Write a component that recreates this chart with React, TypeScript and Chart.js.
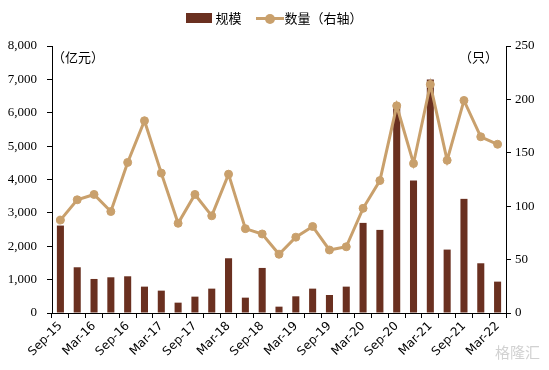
import React, { useEffect, useRef } from "react";
import { Chart, registerables } from "chart.js";

Chart.register(...registerables);

const categories = [
  "Sep-15", "Dec-15", "Mar-16", "Jun-16", "Sep-16", "Dec-16", "Mar-17", "Jun-17",
  "Sep-17", "Dec-17", "Mar-18", "Jun-18", "Sep-18", "Dec-18", "Mar-19", "Jun-19",
  "Sep-19", "Dec-19", "Mar-20", "Jun-20", "Sep-20", "Dec-20", "Mar-21", "Jun-21",
  "Sep-21", "Dec-21", "Mar-22",
];
const scaleValues = [
  2620, 1370, 1020, 1070, 1100, 790, 670, 310, 490, 730, 1640, 460, 1350, 190,
  500, 730, 540, 790, 2700, 2490, 6270, 3970, 7000, 1900, 3420, 1490, 940,
];
const countValues = [
  87, 106, 111, 95, 141, 180, 131, 84, 111, 91, 130, 79, 74, 55, 71, 81, 59, 62,
  98, 124, 194, 140, 214, 143, 199, 165, 158,
];
const leftTicks = { min: 0, max: 8000, step: 1000 };
const rightTicks = { min: 0, max: 250, step: 50 };

const BAR = "#6A3020";
const LINE = "#C9A06C";

export default function App() {
  const ref = useRef<HTMLCanvasElement>(null);
  useEffect(() => {
    document.body.style.margin = "0";
    const unitPlugin = {
      id: "units",
      afterDraw(chart: any) {
        const { ctx, chartArea } = chart;
        ctx.save();
        ctx.fillStyle = "#000";
        ctx.font = '13px "Noto Sans CJK SC"';
        ctx.textBaseline = "middle";
        ctx.textAlign = "left";
        ctx.fillText("（亿元）", chartArea.left, chartArea.top + 11);
        ctx.textAlign = "right";
        ctx.fillText("（只）", chartArea.right - 8, chartArea.top + 11);
        ctx.fillStyle = "rgba(190,190,190,0.7)";
        ctx.font = '15px "Noto Sans CJK SC"';
        ctx.textAlign = "left";
        ctx.fillText("格隆汇", 495, 352);
        ctx.restore();
      },
    };
    const chart = new Chart(ref.current!, {
      type: "bar",
      data: {
        labels: categories,
        datasets: [
          {
            type: "line",
            label: "数量（右轴）",
            data: countValues,
            yAxisID: "y1",
            borderColor: LINE,
            backgroundColor: LINE,
            borderWidth: 3,
            pointRadius: 4,
            pointBackgroundColor: LINE,
            pointBorderColor: LINE,
            pointBorderWidth: 1,
            tension: 0,
            order: 1,
          },
          {
            type: "bar",
            label: "规模",
            data: scaleValues,
            yAxisID: "y",
            backgroundColor: BAR,
            barPercentage: 0.42,
            categoryPercentage: 1,
            order: 2,
          },
        ],
      },
      options: {
        animation: false,
        responsive: false,
        layout: { padding: { top: 46, left: 0, right: 0, bottom: 0 } },
        plugins: { legend: { display: false }, tooltip: { enabled: false } },
        scales: {
          x: {
            offset: true,
            grid: { drawOnChartArea: false, drawTicks: true, tickLength: 5, color: "#000", offset: true },
            border: { display: true, color: "#000", width: 1 },
            ticks: {
              autoSkip: false,
              maxRotation: 45,
              minRotation: 45,
              color: "#000",
              font: { family: '"DejaVu Sans", sans-serif', size: 12 },
              padding: 1,
              callback: (_v: any, i: number) => (i % 2 === 0 ? categories[i] : ""),
            },
            afterFit: (s: any) => { s.height = 57; },
          },
          y: {
            position: "left",
            min: leftTicks.min,
            max: leftTicks.max,
            grid: { drawOnChartArea: false, drawTicks: true, tickLength: 5, color: "#000" },
            border: { display: true, color: "#000", width: 1 },
            ticks: {
              stepSize: leftTicks.step,
              color: "#000",
              padding: 10,
              font: { family: '"Liberation Serif", "DejaVu Serif", serif', size: 13 },
              callback: (v: any) => Number(v).toLocaleString("en-US"),
            },
            afterFit: (s: any) => { s.width = 52; },
          },
          y1: {
            position: "right",
            min: rightTicks.min,
            max: rightTicks.max,
            grid: { drawOnChartArea: false, drawTicks: true, tickLength: 5, color: "#000" },
            border: { display: true, color: "#000", width: 1 },
            ticks: {
              stepSize: rightTicks.step,
              color: "#000",
              padding: 4,
              font: { family: '"Liberation Serif", "DejaVu Serif", serif', size: 13 },
            },
            afterFit: (s: any) => { s.width = 43; },
          },
        },
      },
      plugins: [unitPlugin],
    });
    return () => chart.destroy();
  }, []);

  return (
    <div style={{ position: "relative", width: 549, height: 370, background: "#fff" }}>
      <canvas ref={ref} width={549} height={370} style={{ display: "block", width: 549, height: 370 }} />
      <div
        style={{
          position: "absolute",
          top: 8,
          left: 0,
          width: 549,
          display: "flex",
          justifyContent: "center",
          alignItems: "center",
          fontFamily: '"Noto Sans CJK SC", sans-serif',
          fontSize: 13,
          color: "#000",
          lineHeight: "20px",
        }}
      >
        <span style={{ display: "inline-block", width: 26, height: 10, background: BAR, marginRight: 3 }} />
        <span style={{ marginRight: 14 }}>规模</span>
        <span style={{ position: "relative", display: "inline-block", width: 28, height: 10, marginRight: 1 }}>
          <span style={{ position: "absolute", left: 0, top: 4, width: 28, height: 3, background: LINE }} />
          <span style={{ position: "absolute", left: 9, top: 0.5, width: 10, height: 10, borderRadius: 5, background: LINE }} />
        </span>
        <span>数量（右轴）</span>
      </div>
    </div>
  );
}
